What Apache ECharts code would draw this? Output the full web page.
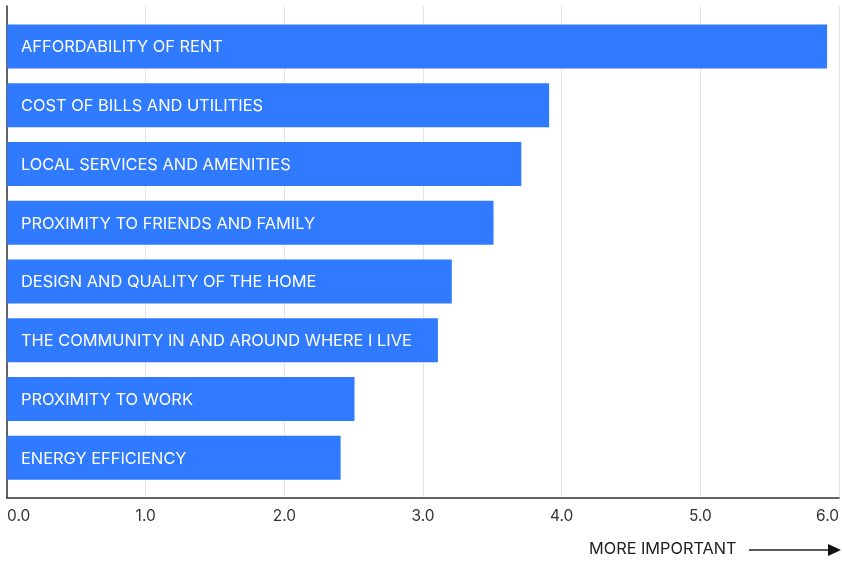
<!DOCTYPE html>
<html>
<head>
<meta charset="utf-8" />
<title>Rent priorities</title>
<script src="https://cdn.jsdelivr.net/npm/echarts@6/dist/echarts.min.js"></script>
<style>
  html, body { margin: 0; padding: 0; background: #fff; }
  #main { width: 842px; height: 563px; }
</style>
</head>
<body>
<div id="main"></div>
<script type="text/javascript">
// categories top to bottom
var categories = [
  'AFFORDABILITY OF RENT',
  'COST OF BILLS AND UTILITIES',
  'LOCAL SERVICES AND AMENITIES',
  'PROXIMITY TO FRIENDS AND FAMILY',
  'DESIGN AND QUALITY OF THE HOME',
  'THE COMMUNITY IN AND AROUND WHERE I LIVE',
  'PROXIMITY TO WORK',
  'ENERGY EFFICIENCY'
];
var scores = [5.9, 3.9, 3.7, 3.5, 3.2, 3.1, 2.5, 2.4];
var tickLabels = ['0.0', '1.0', '2.0', '3.0', '4.0', '5.0', '6.0'];

var labelFont = 'Inter';
var chart = echarts.init(document.getElementById('main'));

var option = {
  animation: false,
  grid: [
    // bars
    { left: 7, right: 1, top: 17, bottom: 76 },
    // frame: gridlines + axes
    { left: 7, right: 1, top: 6, bottom: 65 }
  ],
  xAxis: [
    { gridIndex: 0, type: 'value', min: 0, max: 6, show: false },
    {
      gridIndex: 1, type: 'value', min: 0, max: 6, interval: 1,
      axisLine: { show: true, lineStyle: { color: '#333', width: 1.5 } },
      axisTick: { show: false },
      splitLine: { show: true, lineStyle: { color: '#e5e5e5', width: 1 } },
      axisLabel: {
        color: '#333', fontFamily: labelFont, fontSize: 15.5, margin: 10,
        alignMinLabel: 'left', alignMaxLabel: 'right',
        formatter: function (v) { return tickLabels[Math.round(v)]; }
      }
    }
  ],
  yAxis: [
    { gridIndex: 0, type: 'category', data: categories, inverse: true, show: false },
    {
      gridIndex: 1, type: 'category', data: [''],
      axisLine: { show: true, lineStyle: { color: '#333', width: 1.5 } },
      axisTick: { show: false },
      axisLabel: { show: false },
      splitLine: { show: false }
    }
  ],
  series: [
    {
      type: 'bar',
      xAxisIndex: 0,
      yAxisIndex: 0,
      data: scores,
      barWidth: 44,
      itemStyle: { color: '#2f7aff' },
      label: {
        show: true,
        position: 'insideLeft',
        distance: 14,
        color: '#fff',
        fontFamily: labelFont,
        fontSize: 16.4,
        offset: [0, 1],
        formatter: function (p) { return p.name; }
      },
      z: 3
    }
  ],
  graphic: [
    {
      type: 'text', left: 589, top: 541,
      style: { text: 'MORE IMPORTANT', fill: '#222', font: '16.3px ' + labelFont }
    },
    {
      type: 'line',
      shape: { x1: 749, y1: 550, x2: 830, y2: 550 },
      style: { stroke: '#222', lineWidth: 1.5 }
    },
    {
      type: 'polygon',
      shape: { points: [[828, 544], [841, 550], [828, 556]] },
      style: { fill: '#111' }
    }
  ]
};

chart.setOption(option);
</script>
</body>
</html>
